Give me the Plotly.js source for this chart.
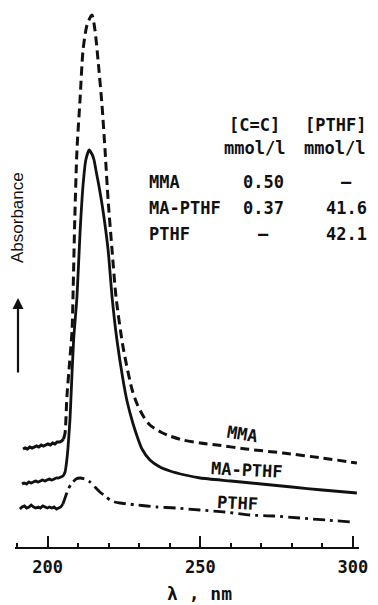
<!DOCTYPE html>
<html>
<head>
<meta charset="utf-8">
<script src="https://cdn.plot.ly/plotly-3.0.1.min.js"></script>
<style>html,body{margin:0;padding:0;background:#fff;}#chart{width:378px;height:605px;}</style>
</head>
<body>
<div id="chart"></div>
<script>
// ---- data (wavelength in nm, absorbance in arbitrary offset units) ----
const mmaNoiseX = [191.9, 192.6, 193.4, 194.1, 194.9, 195.6, 196.4, 197.1, 197.9, 198.6, 199.4, 200.1, 200.9, 201.6, 202.4, 203.1, 203.9, 204.6, 205.2];
const mmaNoiseY = [0.98, 0.99, 0.98, 1.00, 0.99, 1.00, 1.01, 1.00, 1.02, 1.01, 1.02, 1.03, 1.02, 1.04, 1.03, 1.05, 1.05, 1.06, 1.08];
const mmaX = [205.2, 205.7, 206.3, 207.2, 208.0, 208.3, 208.9, 209.6, 210.6, 211.6, 212.9, 214.5, 215.5, 216.5, 217.8, 218.8, 219.8, 221.1, 222.4, 224.7, 227.6, 229.3, 231.5, 233.5, 237, 240, 244.3, 250, 255.5, 265, 277.1, 290, 301.3];
const mmaY = [1.08, 1.14, 1.50, 1.85, 2.17, 2.50, 3.30, 3.97, 4.47, 4.97, 5.22, 5.32, 5.17, 4.87, 4.42, 3.97, 3.47, 2.97, 2.50, 2.00, 1.58, 1.43, 1.30, 1.22, 1.15, 1.11, 1.07, 1.04, 1.02, 0.98, 0.94, 0.89, 0.84];

const maPthfX = [191.6, 192.3, 193.1, 193.8, 194.6, 195.3, 196.1, 196.8, 197.6, 198.3, 199.1, 199.8, 200.6, 201.3, 202.1, 202.8, 203.6, 204.3, 205.0, 205.7, 206.2, 206.6, 207.3, 207.6, 208.5, 209.6, 210.6, 211.6, 212.5, 213.6, 214.5, 215.2, 215.8, 216.8, 218.1, 219.8, 221.2, 222.7, 224.7, 226.0, 227.9, 229.5, 230.9, 233.5, 236.8, 240.1, 245, 250, 260, 270, 280, 290, 301.3];
const maPthfY = [0.63, 0.64, 0.63, 0.65, 0.64, 0.65, 0.66, 0.65, 0.66, 0.67, 0.66, 0.67, 0.68, 0.67, 0.68, 0.69, 0.69, 0.70, 0.71, 0.75, 0.85, 0.97, 1.27, 1.47, 2.07, 2.50, 3.14, 3.62, 3.87, 3.97, 3.93, 3.87, 3.77, 3.61, 3.37, 2.97, 2.47, 2.07, 1.67, 1.46, 1.24, 1.09, 0.98, 0.87, 0.80, 0.76, 0.72, 0.69, 0.66, 0.63, 0.60, 0.57, 0.54];

const pthfNoiseX = [190.9, 191.6, 192.4, 193.1, 193.9, 194.6, 195.4, 196.1, 196.9, 197.6, 198.4, 199.1, 199.9, 200.6, 201.4, 202.1, 202.9, 203.6, 204.3, 205.0];
const pthfNoiseY = [0.38, 0.40, 0.41, 0.39, 0.40, 0.42, 0.40, 0.39, 0.40, 0.39, 0.41, 0.40, 0.39, 0.40, 0.39, 0.40, 0.38, 0.39, 0.40, 0.43];
const pthfX = [205.0, 205.8, 206.6, 207.5, 208.3, 209.3, 210.6, 212.2, 213.9, 215.5, 217.1, 218.8, 220.4, 222.0, 223.7, 226.5, 229.2, 232.5, 235.8, 242, 249.9, 258, 266.3, 274, 282.6, 291, 300.0];
const pthfY = [0.43, 0.50, 0.57, 0.62, 0.65, 0.68, 0.69, 0.68, 0.65, 0.60, 0.55, 0.51, 0.47, 0.45, 0.44, 0.43, 0.42, 0.41, 0.40, 0.39, 0.37, 0.35, 0.32, 0.31, 0.29, 0.27, 0.25];

const tickValues = [200, 250, 300];
const tickLabels = ['200', '250', '300'];

const seriesNames = ['MMA', 'MA-PTHF', 'PTHF'];
const tableHeaders = ['[C=C]', '[PTHF]'];
const tableUnits = ['mmol/l', 'mmol/l'];
const ccValues = ['0.50', '0.37', '—'];
const pthfConc = ['—', '41.6', '42.1'];

// ---- layout helpers ----
const W = 378, H = 605;
const M = {l: 15, r: 19, t: 10, b: 58};
const PW = W - M.l - M.r, PH = H - M.t - M.b;
const px = x => (x - M.l) / PW;
const py = y => (H - M.b - y) / PH;

const MONO = 'DejaVu Sans Mono, Liberation Mono, monospace';
const INK = '#111';

const lineBase = {mode: 'lines', hoverinfo: 'skip', showlegend: false};
const traces = [
  Object.assign({}, lineBase, {x: mmaNoiseX, y: mmaNoiseY, line: {color: INK, width: 3, shape: 'linear'}}),
  Object.assign({}, lineBase, {x: mmaX, y: mmaY, name: 'MMA', line: {color: INK, width: 3, dash: '9px,5px', shape: 'spline', smoothing: 0.7}}),
  Object.assign({}, lineBase, {x: maPthfX, y: maPthfY, name: 'MA-PTHF', line: {color: INK, width: 2.8, shape: 'spline', smoothing: 0.6}}),
  Object.assign({}, lineBase, {x: pthfNoiseX, y: pthfNoiseY, line: {color: INK, width: 2.8, shape: 'linear'}}),
  Object.assign({}, lineBase, {x: pthfX, y: pthfY, name: 'PTHF', line: {color: INK, width: 2.8, dash: '12px,5px,3px,5px', shape: 'spline', smoothing: 0.6}})
];

const ann = [];
function txt(text, x, y, opts) {
  ann.push(Object.assign({
    text: text, x: px(x), y: py(y), xref: 'paper', yref: 'paper',
    showarrow: false, xanchor: 'center', yanchor: 'middle',
    font: {family: MONO, size: 17, color: INK, weight: 'bold'}
  }, opts || {}));
}
// table
const colX = [263, 346];
txt(tableHeaders[0], 254, 125);
txt(tableHeaders[1], 335, 125);
txt(tableUnits[0], 254, 148);
txt(tableUnits[1], 334, 148);
const rowY = [182, 208, 234];
seriesNames.forEach((n, i) => {
  txt(n, 147, rowY[i], {xanchor: 'left'});
  txt(ccValues[i], colX[0], rowY[i]);
  txt(pthfConc[i], colX[1], rowY[i]);
});
// curve labels
txt(seriesNames[0], 243, 434, {textangle: 9});
txt(seriesNames[1], 247, 470, {textangle: 3});
txt(seriesNames[2], 237, 503, {textangle: 3});
// y label + arrow
txt('Absorbance', 17, 218, {textangle: -90, font: {family: 'Liberation Sans, Arial, sans-serif', size: 17, color: INK}});
ann.push({text: '', x: px(18), y: py(298), xref: 'paper', yref: 'paper', showarrow: true,
  ax: 0, ay: 76, arrowhead: 2, arrowsize: 1, arrowwidth: 2.2, arrowcolor: INK});
// x title
txt('λ , nm', 200, 593, {font: {family: MONO, size: 18, color: INK, weight: 'bold'}});

const layout = {
  width: W, height: H,
  margin: M,
  paper_bgcolor: '#fff', plot_bgcolor: '#fff',
  showlegend: false,
  xaxis: {
    range: [189.3, 302], fixedrange: true,
    showline: true, linecolor: INK, linewidth: 2,
    showgrid: false, zeroline: false,
    ticks: 'inside', ticklen: 11, tickwidth: 2, tickcolor: INK,
    tickmode: 'array', tickvals: tickValues, ticktext: tickLabels,
    ticklabelstandoff: 4,
    tickfont: {family: MONO, size: 17, color: INK, weight: 'bold'},
    minor: {ticks: 'inside', ticklen: 4, tickwidth: 2, tickcolor: INK, dtick: 10, tick0: 190, showgrid: false}
  },
  yaxis: {range: [0, PH / 100], visible: false, fixedrange: true},
  annotations: ann
};

Plotly.newPlot('chart', traces, layout, {staticPlot: true, displayModeBar: false});
</script>
</body>
</html>
